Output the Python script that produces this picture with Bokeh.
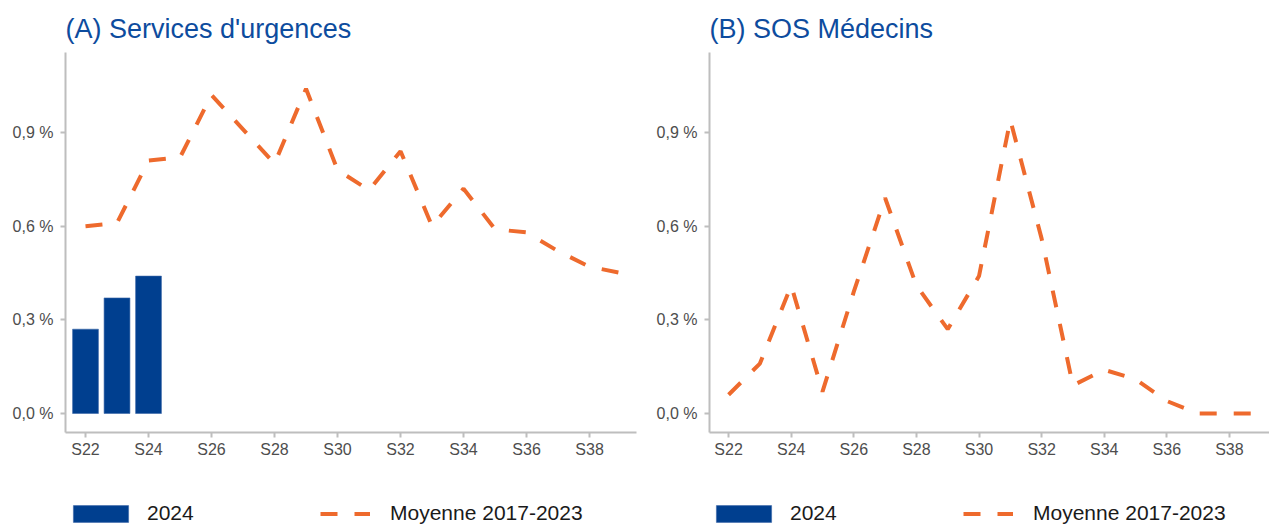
from bokeh.plotting import figure
from bokeh.models import (Range1d, FixedTicker, Legend, LegendItem, ColumnDataSource)
from bokeh.layouts import row, column
from bokeh.embed import file_html
from bokeh.resources import INLINE

# ---- data ----
weeks = [22, 23, 24, 25, 26, 27, 28, 29, 30, 31, 32, 33, 34, 35, 36, 37, 38, 39]
weeks_2024_urg = [22, 23, 24]
urg_2024 = [0.27, 0.37, 0.44]
urg_moy = [0.60, 0.61, 0.81, 0.82, 1.02, 0.91, 0.80, 1.04, 0.78, 0.715,
           0.84, 0.60, 0.72, 0.59, 0.58, 0.52, 0.47, 0.45]
weeks_2024_sos = []
sos_2024 = []
sos_moy = [0.06, 0.16, 0.41, 0.07, 0.39, 0.69, 0.41, 0.27, 0.44, 0.94,
           0.56, 0.09, 0.14, 0.11, 0.04, 0.0, 0.0, 0.0]

x_ticks = [22, 24, 26, 28, 30, 32, 34, 36, 38]
x_labels = ["S22", "S24", "S26", "S28", "S30", "S32", "S34", "S36", "S38"]
y_ticks = [0.0, 0.3, 0.6, 0.9]
y_labels = ["0,0 %", "0,3 %", "0,6 %", "0,9 %"]

titles = ["(A) Services d'urgences", "(B) SOS Médecins"]
legend_labels = ["2024", "Moyenne 2017-2023"]

BLUE = "#003F8F"
ORANGE = "#EE6A2D"
TITLE_BLUE = "#0D4C9E"
AXIS_GREY = "#BEBEBE"
TEXT_GREY = "#4D4D4D"
FONT = "Liberation Sans"

MAIN_H = 470
LEG_H = 55


def bar_style():
    return dict(fill_color=BLUE, line_color="#3A67A8", line_width=0.6)


def line_style():
    return dict(line_color=ORANGE, line_width=4, line_dash="17 17")


def make_panel(title, wk_bar, bar_vals, line_vals, width, left, right, x_start, x_end):
    p = figure(width=width, height=MAIN_H, output_backend="svg", toolbar_location=None,
               x_range=Range1d(x_start, x_end), y_range=Range1d(-0.0608, 1.156),
               min_border_left=left, min_border_right=right,
               min_border_top=52, min_border_bottom=MAIN_H - 432, title=title)
    p.title.text_font = FONT
    p.title.text_font_size = "27px"
    p.title.text_font_style = "normal"
    p.title.text_color = TITLE_BLUE
    p.title.align = "left"
    p.title.standoff = 18

    p.outline_line_color = None
    p.background_fill_color = "white"
    p.border_fill_color = "white"
    p.xgrid.visible = False
    p.ygrid.visible = False

    src_bar = ColumnDataSource(dict(x=wk_bar, top=bar_vals))
    p.vbar(x="x", top="top", width=0.82, bottom=0, source=src_bar, **bar_style())
    src_line = ColumnDataSource(dict(x=weeks, y=line_vals))
    p.line(x="x", y="y", source=src_line, **line_style())

    for ax in (p.xaxis[0], p.yaxis[0]):
        ax.axis_line_color = AXIS_GREY
        ax.axis_line_width = 2
        ax.major_tick_line_color = AXIS_GREY
        ax.major_tick_line_width = 2
        ax.major_tick_in = 0
        ax.major_tick_out = 5
        ax.minor_tick_line_color = None
        ax.major_label_text_font = FONT
        ax.major_label_text_font_size = "16px"
        ax.major_label_text_color = TEXT_GREY

    p.xaxis.ticker = FixedTicker(ticks=x_ticks)
    p.xaxis.major_label_overrides = dict(zip(x_ticks, x_labels))
    p.xaxis.major_label_standoff = 3
    p.yaxis.ticker = FixedTicker(ticks=y_ticks)
    p.yaxis.major_label_overrides = dict(zip(y_ticks, y_labels))
    p.yaxis.major_label_standoff = 7
    return p


def legend_common():
    return dict(orientation="horizontal", padding=0, margin=0,
                border_line_color=None, background_fill_alpha=0,
                label_text_font=FONT, label_text_font_size="21px",
                label_text_color="#1A1A1A")


def make_legend(width, x_bar, x_line):
    # legend-only strip; glyphs reuse the series data but lie outside its 0..1 range
    lf = figure(width=width, height=LEG_H, output_backend="svg", toolbar_location=None,
                x_range=Range1d(0, 1), y_range=Range1d(0, 1),
                x_axis_location=None, y_axis_location=None,
                min_border=0)
    lf.outline_line_color = None
    lf.xgrid.visible = False
    lf.ygrid.visible = False
    src_b = ColumnDataSource(dict(x=weeks_2024_urg, top=urg_2024))
    src_l = ColumnDataSource(dict(x=weeks, y=urg_moy))
    b = lf.vbar(x="x", top="top", width=0.82, bottom=0, source=src_b, **bar_style())
    l = lf.line(x="x", y="y", source=src_l, **line_style())
    leg_b = Legend(items=[LegendItem(label=legend_labels[0], renderers=[b])],
                   location=(x_bar, 0), glyph_width=69, glyph_height=21,
                   label_standoff=12, **legend_common())
    leg_l = Legend(items=[LegendItem(label=legend_labels[1], renderers=[l])],
                   location=(x_line, 0), glyph_width=50, glyph_height=21,
                   label_standoff=20, **legend_common())
    lf.add_layout(leg_b, "center")
    lf.add_layout(leg_l, "center")
    return lf


p1 = make_panel(titles[0], weeks_2024_urg, urg_2024, urg_moy, 640, 65, 4, 21.365, 39.49)
p2 = make_panel(titles[1], weeks_2024_sos, sos_2024, sos_moy, 629, 69, 0, 21.39, 39.28)
l1 = make_legend(640, 66, 320)
l2 = make_legend(629, 69, 323)

layout = column(row(p1, p2), row(l1, l2))
open("out.html", "w").write(file_html(layout, INLINE))
